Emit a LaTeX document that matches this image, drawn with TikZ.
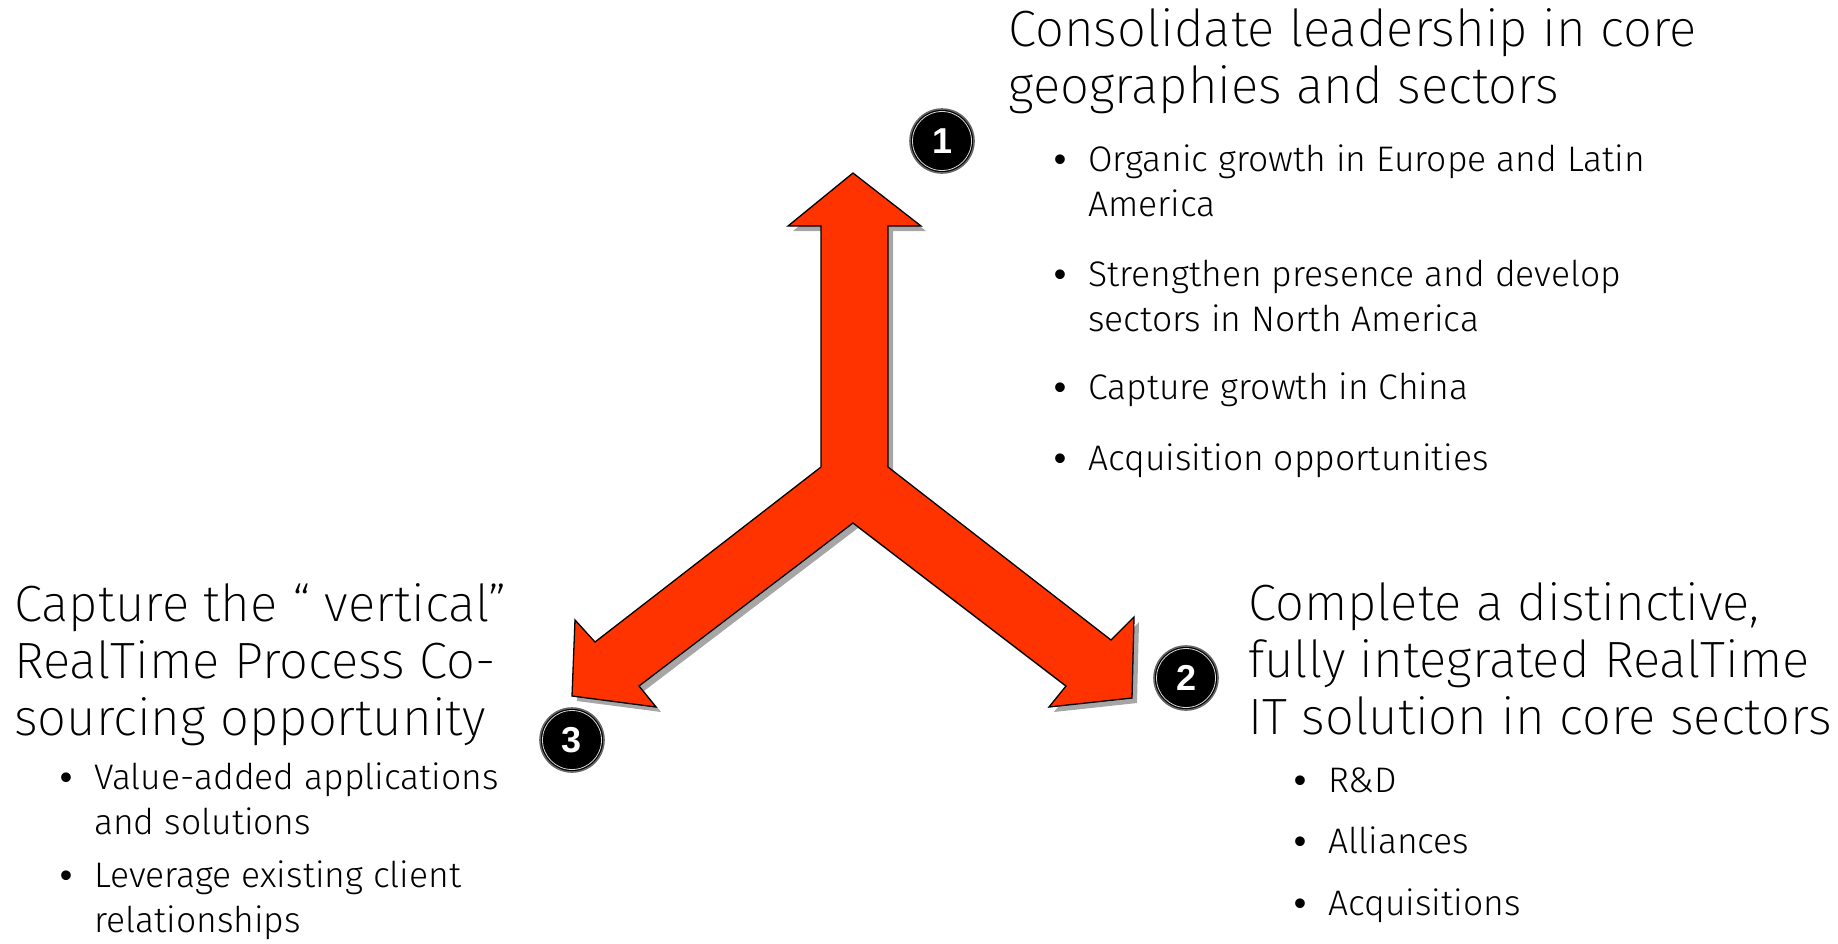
\documentclass[tikz,border=0pt]{standalone}
\usepackage{fontspec}
\newfontfamily\headfont{Fira Sans ExtraLight}
\newfontfamily\bodyfont{Fira Sans Light}
\newfontfamily\numfont{Liberation Sans}
\usepackage{tikz}
\usetikzlibrary{positioning}

\definecolor{forkred}{RGB}{255,51,0}
\newcommand\itembul{\llap{{\numfont\textbullet}\hspace{22pt}}}

% outline of the three-way arrow, in pixel units
\def\forkpath{(853,173) -- (921,226) -- (888,226) -- (888,467) -- (1111,640)
  -- (1134,617) -- (1132,698) -- (1049,707) -- (1066,686) -- (853,523)
  -- (639,686) -- (656,707) -- (572,696) -- (575,620) -- (595,642)
  -- (821,467) -- (821,226) -- (788,226) -- cycle}

\begin{document}
\begin{tikzpicture}[x=1pt,y=-1pt,
   heading/.style={anchor=base west,align=left,inner sep=0pt,
     font=\headfont\fontsize{51}{57}\selectfont},
   point/.style={anchor=base west,align=left,inner sep=0pt,
     font=\bodyfont\fontsize{35.5}{44.5}\selectfont},
   numdot/.style={circle,fill=black,draw=black!60,line width=1.6pt,
     minimum size=64pt,inner sep=0pt,text=white,
     font=\numfont\bfseries\fontsize{36}{36}\selectfont}]
  \useasboundingbox (0,0) rectangle (1838,943);

  % arrow with its drop shadow
  \fill[black!35,shift={(5,5)}] \forkpath;
  \draw[fill=forkred,line width=1.3pt,line join=miter] \forkpath;

  % numbered markers
  \node[numdot] (n1) at (942,141) {1};
  \node[numdot] (n2) at (1186,678) {2};
  \node[numdot] (n3) at (572,740) {3};
  \foreach \n in {n1,n2,n3}
    \draw[white!85!black,line width=0.8pt] (\n.center) circle (29.5pt);

  % 1: geographies (nodes sit on the baseline of their last line)
  \node[heading] (h1) at (1008,103) {Consolidate leadership in core\\geographies and sectors};
  \node[point] (p11) at (1088,216) {\itembul Organic growth in Europe and Latin\\America};
  \node[point] (p12) at (1088,331) {\itembul Strengthen presence and develop\\sectors in North America};
  \node[point] (p13) at (1088,399) {\itembul Capture growth in China};
  \node[point] (p14) at (1088,470) {\itembul Acquisition opportunities};

  % 2: IT solution
  \node[heading] (h2) at (1248,734) {Complete a distinctive,\\fully integrated RealTime\\IT solution in core sectors};
  \node[point] (p21) at (1328,792) {\itembul R\&D};
  \node[point] (p22) at (1328,853) {\itembul Alliances};
  \node[point] (p23) at (1328,915) {\itembul Acquisitions};

  % 3: process co-sourcing
  \node[heading] (h3) at (14,735) {Capture the “ vertical”\\RealTime Process Co-\\sourcing opportunity};
  \node[point] (p31) at (94,834) {\itembul Value-added applications\\and solutions};
  \node[point] (p32) at (94,932) {\itembul Leverage existing client\\relationships};
\end{tikzpicture}
\end{document}
